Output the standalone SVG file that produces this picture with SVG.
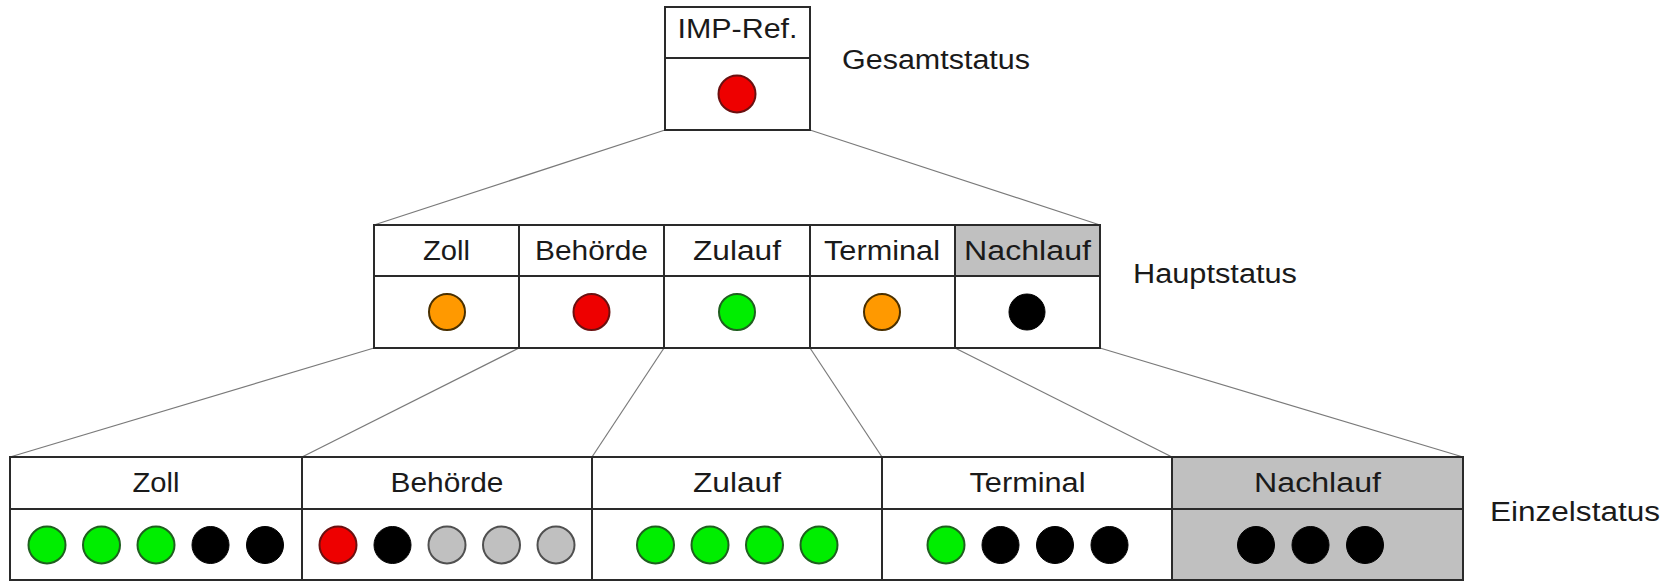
<svg xmlns="http://www.w3.org/2000/svg" width="1664" height="582" viewBox="0 0 1664 582">
<style>
.cell{fill:#ffffff;stroke:#2a2a2a;stroke-width:2}
.grey{fill:#c0c0c0}
.t{font-family:"Liberation Sans",Arial,sans-serif;font-size:27px;fill:#1a1a1a;text-anchor:middle}
.lbl{font-family:"Liberation Sans",Arial,sans-serif;font-size:27px;fill:#1a1a1a}
.conn{stroke:#7a7a7a;stroke-width:1.2;fill:none}
.g{fill:#00ee00;stroke:#1f5f1f;stroke-width:2}
.r{fill:#ee0000;stroke:#6a1010;stroke-width:2}
.o{fill:#ff9900;stroke:#4a3000;stroke-width:2}
.k{fill:#000000;stroke:#000000;stroke-width:1}
.s{fill:#c0c0c0;stroke:#505050;stroke-width:2}
</style>
<rect width="1664" height="582" fill="#ffffff"/>
<g id="connectors">
<line class="conn" x1="665" y1="130" x2="374" y2="225"/>
<line class="conn" x1="810" y1="130" x2="1100" y2="225"/>
<line class="conn" x1="374" y1="348" x2="10" y2="457"/>
<line class="conn" x1="519" y1="348" x2="302" y2="457"/>
<line class="conn" x1="664" y1="348" x2="592" y2="457"/>
<line class="conn" x1="810" y1="348" x2="882" y2="457"/>
<line class="conn" x1="955" y1="348" x2="1172" y2="457"/>
<line class="conn" x1="1100" y1="348" x2="1463" y2="457"/>
</g>
<g id="gesamt">
<rect class="cell" x="665" y="7" width="145" height="51"/>
<rect class="cell" x="665" y="58" width="145" height="72"/>
<text class="t" x="737.5" y="38" textLength="120" lengthAdjust="spacingAndGlyphs">IMP-Ref.</text>
<circle class="r" cx="737" cy="94" r="18.5"/>
</g>
<text class="lbl" x="842" y="69" textLength="188" lengthAdjust="spacingAndGlyphs">Gesamtstatus</text>
<g id="haupt-zoll">
<rect class="cell" x="374" y="225" width="145" height="51"/>
<rect class="cell" x="374" y="276" width="145" height="72"/>
<text class="t" x="446.5" y="260" textLength="47" lengthAdjust="spacingAndGlyphs">Zoll</text>
<circle class="o" cx="447" cy="312" r="18"/>
</g>
<g id="haupt-behoerde">
<rect class="cell" x="519" y="225" width="145" height="51"/>
<rect class="cell" x="519" y="276" width="145" height="72"/>
<text class="t" x="591.5" y="260" textLength="113" lengthAdjust="spacingAndGlyphs">Behörde</text>
<circle class="r" cx="591.5" cy="312" r="18"/>
</g>
<g id="haupt-zulauf">
<rect class="cell" x="664" y="225" width="146" height="51"/>
<rect class="cell" x="664" y="276" width="146" height="72"/>
<text class="t" x="737" y="260" textLength="88" lengthAdjust="spacingAndGlyphs">Zulauf</text>
<circle class="g" cx="737" cy="312" r="18"/>
</g>
<g id="haupt-terminal">
<rect class="cell" x="810" y="225" width="145" height="51"/>
<rect class="cell" x="810" y="276" width="145" height="72"/>
<text class="t" x="882" y="260" textLength="116" lengthAdjust="spacingAndGlyphs">Terminal</text>
<circle class="o" cx="882" cy="312" r="18"/>
</g>
<g id="haupt-nachlauf">
<rect class="cell grey" x="955" y="225" width="145" height="51"/>
<rect class="cell" x="955" y="276" width="145" height="72"/>
<text class="t" x="1027.5" y="260" textLength="127" lengthAdjust="spacingAndGlyphs">Nachlauf</text>
<circle class="k" cx="1027" cy="312" r="18"/>
</g>
<text class="lbl" x="1133" y="283" textLength="164" lengthAdjust="spacingAndGlyphs">Hauptstatus</text>
<g id="einzel-zoll">
<rect class="cell" x="10" y="457" width="292" height="52"/>
<rect class="cell" x="10" y="509" width="292" height="71"/>
<text class="t" x="156" y="492" textLength="47" lengthAdjust="spacingAndGlyphs">Zoll</text>
<circle class="g" cx="47" cy="545" r="18.5"/>
<circle class="g" cx="101.5" cy="545" r="18.5"/>
<circle class="g" cx="156" cy="545" r="18.5"/>
<circle class="k" cx="210.5" cy="545" r="18.5"/>
<circle class="k" cx="265" cy="545" r="18.5"/>
</g>
<g id="einzel-behoerde">
<rect class="cell" x="302" y="457" width="290" height="52"/>
<rect class="cell" x="302" y="509" width="290" height="71"/>
<text class="t" x="447" y="492" textLength="113" lengthAdjust="spacingAndGlyphs">Behörde</text>
<circle class="r" cx="338" cy="545" r="18.5"/>
<circle class="k" cx="392.5" cy="545" r="18.5"/>
<circle class="s" cx="447" cy="545" r="18.5"/>
<circle class="s" cx="501.5" cy="545" r="18.5"/>
<circle class="s" cx="556" cy="545" r="18.5"/>
</g>
<g id="einzel-zulauf">
<rect class="cell" x="592" y="457" width="290" height="52"/>
<rect class="cell" x="592" y="509" width="290" height="71"/>
<text class="t" x="737" y="492" textLength="88" lengthAdjust="spacingAndGlyphs">Zulauf</text>
<circle class="g" cx="655.5" cy="545" r="18.5"/>
<circle class="g" cx="710" cy="545" r="18.5"/>
<circle class="g" cx="764.5" cy="545" r="18.5"/>
<circle class="g" cx="819" cy="545" r="18.5"/>
</g>
<g id="einzel-terminal">
<rect class="cell" x="882" y="457" width="290" height="52"/>
<rect class="cell" x="882" y="509" width="290" height="71"/>
<text class="t" x="1027.5" y="492" textLength="116" lengthAdjust="spacingAndGlyphs">Terminal</text>
<circle class="g" cx="946" cy="545" r="18.5"/>
<circle class="k" cx="1000.5" cy="545" r="18.5"/>
<circle class="k" cx="1055" cy="545" r="18.5"/>
<circle class="k" cx="1109.5" cy="545" r="18.5"/>
</g>
<g id="einzel-nachlauf">
<rect class="cell grey" x="1172" y="457" width="291" height="52"/>
<rect class="cell grey" x="1172" y="509" width="291" height="71"/>
<text class="t" x="1317.5" y="492" textLength="127" lengthAdjust="spacingAndGlyphs">Nachlauf</text>
<circle class="k" cx="1256" cy="545" r="18.5"/>
<circle class="k" cx="1310.5" cy="545" r="18.5"/>
<circle class="k" cx="1365" cy="545" r="18.5"/>
</g>
<text class="lbl" x="1490" y="521" textLength="170" lengthAdjust="spacingAndGlyphs">Einzelstatus</text>
</svg>
